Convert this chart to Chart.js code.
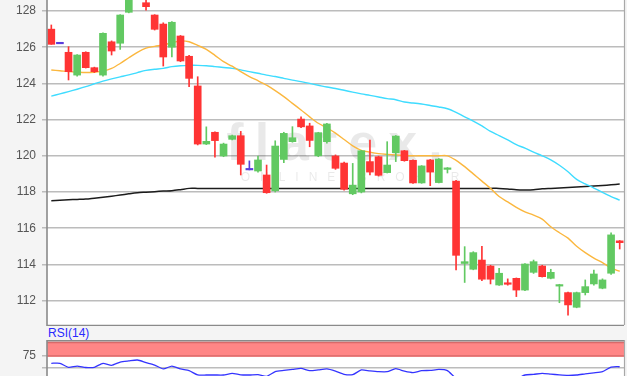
<!DOCTYPE html>
<html>
<head>
<meta charset="utf-8">
<script src="https://cdn.jsdelivr.net/npm/chart.js@4/dist/chart.umd.min.js"></script>
<style>
html,body{margin:0;padding:0;background:#f4f4f4;overflow:hidden;width:627px;height:376px;}
#main{position:absolute;left:0;top:0;}
#rsi{position:absolute;left:0;top:340px;}
#rsiLabel{position:absolute;left:48px;top:327px;font:12px "Liberation Sans",Arial,sans-serif;color:#2a2aff;line-height:13px;}
</style>
</head>
<body>
<canvas id="main" width="627" height="326"></canvas>
<div id="rsiLabel">RSI(14)</div>
<canvas id="rsi" width="627" height="60"></canvas>
<script>
// ---- data ----
const open  = [127.0,126.19,125.72,124.46,125.72,124.87,124.46,126.3,126.22,127.93,129.0,128.46,127.78,127.28,126.0,126.62,125.5,123.86,120.65,121.3,119.99,120.91,121.11,119.22,119.16,118.94,118.07,119.8,120.78,122.03,121.65,120.0,120.78,119.99,119.6,117.9,118.0,119.68,119.95,119.07,120.17,120.28,119.75,118.5,119.77,118.52,119.25,118.6,114.05,113.73,114.24,113.91,112.86,112.95,113.23,112.58,113.56,113.91,113.23,112.8,112.44,111.63,112.44,112.92,112.68,113.51,115.3];
const high  = [127.23,126.19,126.03,125.6,125.75,124.9,126.8,126.35,127.8,129.2,129.5,128.6,127.8,127.35,127.42,126.65,125.55,124.37,121.6,121.32,120.7,121.15,121.35,119.72,119.99,119.49,120.83,121.3,121.61,122.15,121.8,121.3,121.8,120.05,119.65,119.58,120.3,120.87,119.98,120.78,121.12,120.3,119.78,119.46,119.8,119.85,119.35,118.65,114.98,114.7,115.0,113.95,113.78,113.2,113.25,114.05,114.24,113.95,113.73,112.9,112.47,112.47,113.14,113.69,113.2,115.75,115.32];
const low   = [126.16,126.19,124.19,124.4,124.85,124.6,124.4,125.57,125.88,127.9,128.7,128.05,126.95,124.96,125.47,125.2,123.82,120.6,120.62,119.92,119.95,120.88,118.94,119.22,119.1,117.93,118.0,119.62,120.75,121.55,120.5,119.95,120.7,119.25,118.1,117.85,117.95,118.94,118.88,119.05,119.68,119.7,118.48,118.48,118.35,118.5,119.05,113.7,113.0,113.7,113.1,112.92,112.84,112.85,112.22,112.55,113.5,113.3,113.2,111.88,111.2,111.6,112.31,112.85,112.65,113.45,114.85];
const close = [126.16,126.19,124.65,125.57,124.87,124.65,126.77,125.79,127.78,128.9,128.8,128.24,126.99,125.46,127.38,125.24,124.28,120.65,120.8,120.84,120.65,121.11,119.53,119.22,119.77,117.96,120.54,121.24,121.0,121.6,120.85,121.28,121.76,119.31,118.15,118.38,120.28,119.1,118.92,119.49,121.09,119.73,118.5,119.44,119.1,119.82,119.33,114.5,114.15,114.65,113.18,113.18,113.51,112.9,112.58,114.02,114.15,113.32,113.56,112.88,111.76,112.44,112.77,113.47,113.14,115.63,115.2];
const maOrange = [124.74,124.7,124.65,124.62,124.6,124.62,124.68,124.83,125.1,125.42,125.72,125.95,126.05,126.12,126.25,126.35,126.3,126.1,125.88,125.55,125.2,124.95,124.65,124.38,124.15,123.9,123.6,123.27,122.9,122.53,122.15,121.8,121.55,121.25,120.9,120.55,120.3,120.2,120.12,120.08,120.05,120.02,120.0,120.0,120.0,120.0,120.0,119.75,119.4,119.0,118.6,118.2,117.75,117.45,117.15,116.9,116.72,116.5,116.08,115.75,115.45,115.0,114.65,114.35,114.1,113.8,113.62];
const maCyan = [123.3,123.42,123.55,123.68,123.82,123.98,124.13,124.25,124.36,124.47,124.6,124.72,124.78,124.83,124.93,124.98,125.0,125.0,124.98,124.93,124.88,124.83,124.75,124.65,124.56,124.46,124.38,124.28,124.18,124.1,124.0,123.9,123.8,123.72,123.62,123.52,123.42,123.34,123.25,123.16,123.1,122.97,122.92,122.86,122.78,122.7,122.6,122.4,122.15,121.92,121.65,121.35,121.12,120.88,120.62,120.42,120.2,120.0,119.78,119.48,119.12,118.7,118.45,118.22,117.98,117.75,117.55];
const maBlack = [117.52,117.54,117.57,117.59,117.61,117.66,117.71,117.77,117.83,117.9,117.96,117.99,118.02,118.05,118.07,118.13,118.2,118.2,118.2,118.2,118.2,118.2,118.2,118.2,118.2,118.2,118.2,118.2,118.2,118.2,118.2,118.2,118.2,118.2,118.2,118.2,118.2,118.2,118.2,118.2,118.2,118.2,118.2,118.2,118.2,118.2,118.2,118.2,118.2,118.2,118.2,118.2,118.2,118.17,118.12,118.11,118.12,118.18,118.2,118.22,118.25,118.28,118.3,118.33,118.36,118.4,118.44];
const rsiValues = [58.6,58.6,50.4,53,50,50.4,58.6,54.5,61.2,63.5,65.3,60,55,47,53,47,43.5,35,34.7,34.7,34.7,38,35,34.7,35.5,32,41.5,44,46,48.4,43.5,45,47,42.5,36,35.5,45,43,41.5,41.5,47.5,42.5,39.5,43.5,44,46,43.5,28,29,30,28,27,29,28,27,34.7,36,38,36.5,35,34,34.7,37,39,41.5,51,51.6];
const priceTicks = [112,114,116,118,120,122,124,126,128];
const rsiTicks = [25,50,75];
const rsiTickLabels = ['','','75'];
const categories = open.map((_, i) => 'T' + (i + 1));

// ---- styles ----
const RED = '#ff3434', GREEN = '#62c962', DOJI = '#5a3cdc';
const candleColors = open.map((o, i) => close[i] > o ? GREEN : (close[i] < o ? RED : DOJI));
const FONT = '"Liberation Sans", Arial, sans-serif';

function fitLeftAxis(scale) {
  scale.width = 47;
  scale.paddingTop = 0;
  scale.paddingBottom = 0;
}

const mainPlugin = {
  id: 'mainDeco',
  beforeDraw(chart) {
    const {ctx, chartArea: a} = chart;
    ctx.save();
    ctx.fillStyle = '#ffffff';
    ctx.fillRect(a.left, a.top, a.right - a.left, a.bottom - a.top);
    ctx.restore();
  },
  beforeDatasetsDraw(chart) {
    const {ctx} = chart;
    ctx.save();
    ctx.fillStyle = 'rgba(0,0,0,0.085)';
    ctx.textAlign = 'center';
    ctx.textBaseline = 'alphabetic';
    ctx.font = 'bold 52px ' + FONT;
    try { ctx.letterSpacing = '11px'; } catch (e) {}
    ctx.fillText('flatex.', 340, 160);
    ctx.font = '12px ' + FONT;
    try { ctx.letterSpacing = '10px'; } catch (e) {}
    ctx.fillText('ONLINE BROKER', 355, 181);
    ctx.restore();
  },
  afterDraw(chart) {
    const {ctx, chartArea: a} = chart;
    ctx.save();
    ctx.strokeStyle = '#8a8a8a';
    ctx.lineWidth = 1.6;
    ctx.beginPath();
    ctx.moveTo(a.left, 0); ctx.lineTo(a.left, a.bottom + 0.5);
    ctx.lineTo(a.right, a.bottom + 0.5);
    ctx.stroke();
    ctx.strokeStyle = '#a8a8a8';
    ctx.lineWidth = 1.2;
    ctx.beginPath();
    ctx.moveTo(a.right + 0.5, 0); ctx.lineTo(a.right + 0.5, a.bottom);
    ctx.stroke();
    ctx.restore();
  }
};

new Chart(document.getElementById('main'), {
  type: 'bar',
  data: {
    labels: categories,
    datasets: [
      { type: 'bar', data: open.map((o, i) => [o, close[i]]), backgroundColor: candleColors,
        barThickness: 7, grouped: false, minBarLength: 1.5, order: 0 },
      { type: 'bar', data: low.map((l, i) => [l, high[i]]), backgroundColor: candleColors,
        barThickness: 1, grouped: false, order: 1 },
      { type: 'line', data: maOrange, borderColor: '#fbb73e', borderWidth: 1.4, pointRadius: 0, tension: 0.3, order: 2 },
      { type: 'line', data: maCyan, borderColor: '#3fdcff', borderWidth: 1.4, pointRadius: 0, tension: 0.3, order: 3 },
      { type: 'line', data: maBlack, borderColor: '#1c1c1c', borderWidth: 1.5, pointRadius: 0, tension: 0.3, order: 4 }
    ]
  },
  options: {
    responsive: false,
    animation: false,
    layout: { padding: { left: 0, right: 3, top: 0, bottom: 1 } },
    plugins: { legend: { display: false }, tooltip: { enabled: false } },
    scales: {
      x: { type: 'category', offset: true, display: false },
      y: {
        min: 110.65, max: 128.61,
        afterFit: fitLeftAxis,
        afterBuildTicks(scale) { scale.ticks = priceTicks.map(v => ({ value: v })); },
        ticks: { color: '#555555', font: { family: FONT, size: 12 }, padding: 6,
                 callback: v => String(v) },
        grid: { color: '#bcbcbc', lineWidth: 1.5, tickLength: 5, drawTicks: true },
        border: { display: false }
      }
    }
  },
  plugins: [mainPlugin]
});

const rsiPlugin = {
  id: 'rsiDeco',
  beforeDraw(chart) {
    const {ctx, chartArea: a} = chart;
    ctx.save();
    ctx.fillStyle = '#ffffff';
    ctx.fillRect(a.left, 0, a.right - a.left, chart.height);
    ctx.restore();
  },
  beforeDatasetsDraw(chart) {
    const {ctx, chartArea: a, scales} = chart;
    const y100 = scales.y.getPixelForValue(100);
    const y75 = scales.y.getPixelForValue(75);
    ctx.save();
    ctx.fillStyle = '#ff8686';
    ctx.fillRect(a.left, 1.5, a.right - a.left, y75 + 1.6 - 1.5);
    ctx.strokeStyle = '#d86a6a';
    ctx.lineWidth = 1.2;
    ctx.beginPath();
    ctx.moveTo(a.left, y100 - 0.3); ctx.lineTo(a.right, y100 - 0.3);
    ctx.moveTo(a.left, y75 + 0.6); ctx.lineTo(a.right, y75 + 0.6);
    ctx.stroke();
    ctx.restore();
  },
  afterDraw(chart) {
    const {ctx, chartArea: a} = chart;
    ctx.save();
    ctx.strokeStyle = '#8a8a8a';
    ctx.lineWidth = 1.6;
    ctx.beginPath();
    ctx.moveTo(a.left, 0.8); ctx.lineTo(a.right, 0.8);
    ctx.moveTo(a.left, 0); ctx.lineTo(a.left, chart.height);
    ctx.stroke();
    ctx.strokeStyle = '#a8a8a8';
    ctx.lineWidth = 1.2;
    ctx.beginPath();
    ctx.moveTo(a.right + 0.5, 0); ctx.lineTo(a.right + 0.5, chart.height);
    ctx.stroke();
    ctx.restore();
  }
};

new Chart(document.getElementById('rsi'), {
  type: 'line',
  data: {
    labels: categories,
    datasets: [
      { data: rsiValues, borderColor: '#3434ff', borderWidth: 1.3, pointRadius: 0, tension: 0.2 }
    ]
  },
  options: {
    responsive: false,
    animation: false,
    layout: { padding: { left: 0, right: 3, top: 3, bottom: 8 } },
    plugins: { legend: { display: false }, tooltip: { enabled: false } },
    scales: {
      x: { type: 'category', offset: true, display: false },
      y: {
        min: 0, max: 100,
        afterFit: fitLeftAxis,
        afterBuildTicks(scale) { scale.ticks = rsiTicks.map(v => ({ value: v })); },
        ticks: { color: '#555555', font: { family: FONT, size: 12 }, padding: 6,
                 callback: (v) => rsiTickLabels[rsiTicks.indexOf(v)] },
        grid: { color: '#bcbcbc', lineWidth: 1.5, tickLength: 5 },
        border: { display: false }
      }
    }
  },
  plugins: [rsiPlugin]
});
</script>
</body>
</html>
